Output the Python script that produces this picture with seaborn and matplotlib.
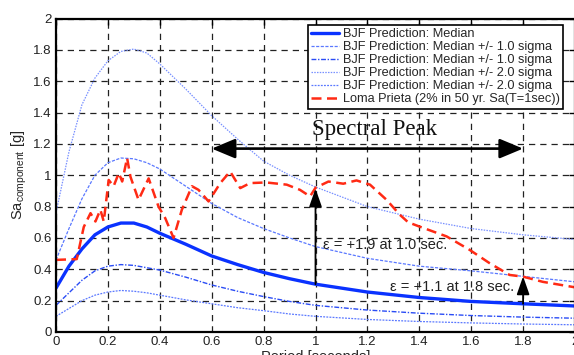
import numpy as np
import pandas as pd
import matplotlib
matplotlib.use("Agg")
import matplotlib.pyplot as plt
import seaborn as sns

# ---- data ----
period = [0.0, 0.05, 0.1, 0.15, 0.2, 0.25, 0.3, 0.35, 0.4, 0.5, 0.6, 0.7, 0.8, 0.9,
          1.0, 1.2, 1.4, 1.6, 1.8, 2.0]
median = [0.28, 0.42, 0.53, 0.62, 0.67, 0.695, 0.695, 0.67, 0.63, 0.56, 0.485, 0.43, 0.38, 0.34,
          0.305, 0.255, 0.22, 0.195, 0.18, 0.166]
plus1 = [0.46, 0.66, 0.85, 1.0, 1.08, 1.11, 1.105, 1.08, 1.04, 0.93, 0.82, 0.73, 0.66, 0.60,
         0.545, 0.47, 0.42, 0.39, 0.355, 0.32]
minus1 = [0.17, 0.25, 0.33, 0.39, 0.42, 0.43, 0.425, 0.41, 0.395, 0.35, 0.30, 0.26, 0.226, 0.195,
          0.17, 0.14, 0.12, 0.105, 0.095, 0.088]
plus2 = [0.76, 1.15, 1.45, 1.62, 1.73, 1.79, 1.805, 1.78, 1.71, 1.55, 1.38, 1.23, 1.09, 1.0,
         0.925, 0.80, 0.72, 0.66, 0.62, 0.59]
minus2 = [0.10, 0.15, 0.20, 0.235, 0.255, 0.265, 0.26, 0.25, 0.235, 0.205, 0.18, 0.155, 0.136, 0.115,
          0.10, 0.08, 0.067, 0.058, 0.051, 0.046]

lp_period = [0.0, 0.08, 0.107, 0.133, 0.152, 0.171, 0.184, 0.203, 0.222, 0.242, 0.255, 0.274,
             0.287, 0.318, 0.357, 0.395, 0.421, 0.453, 0.485, 0.524, 0.549, 0.588, 0.633,
             0.671, 0.71, 0.748, 0.81, 0.889, 0.94, 0.979, 1.0, 1.05, 1.107, 1.158, 1.21,
             1.274, 1.325, 1.357, 1.40, 1.505, 1.594, 1.671, 1.748, 1.80, 1.876, 2.0]
lp_sa = [0.46, 0.465, 0.67, 0.758, 0.705, 0.78, 0.705, 0.97, 0.93, 1.014, 0.96, 1.11,
         0.99, 0.843, 0.98, 0.80, 0.726, 0.60, 0.78, 0.93, 0.907, 0.833, 0.95,
         1.024, 0.918, 0.95, 0.954, 0.94, 0.907, 0.865, 0.92, 0.96, 0.946, 0.967, 0.94,
         0.843, 0.748, 0.70, 0.673, 0.61, 0.524, 0.439, 0.364, 0.353, 0.32, 0.285]

labels = ["BJF Prediction: Median",
          "BJF Prediction: Median +/- 1.0 sigma",
          "BJF Prediction: Median +/- 1.0 sigma",
          "BJF Prediction: Median +/- 2.0 sigma",
          "BJF Prediction: Median +/- 2.0 sigma",
          "Loma Prieta (2% in 50 yr. Sa(T=1sec))"]
xticks = [0, 0.2, 0.4, 0.6, 0.8, 1, 1.2, 1.4, 1.6, 1.8, 2]
yticks = [0, 0.2, 0.4, 0.6, 0.8, 1, 1.2, 1.4, 1.6, 1.8, 2]
xtick_labels = ["0", "0.2", "0.4", "0.6", "0.8", "1", "1.2", "1.4", "1.6", "1.8", "2"]
ytick_labels = ["0", "0.2", "0.4", "0.6", "0.8", "1", "1.2", "1.4", "1.6", "1.8", "2"]

# ---- style ----
sns.set_style("white")
plt.rcParams["font.family"] = ["Liberation Sans", "DejaVu Sans"]

fig = plt.figure(figsize=(5.74, 3.55), dpi=100)
ax = fig.add_axes([56 / 574, 1 - 332 / 355, 519 / 574, 313.5 / 355])

df = pd.DataFrame({"period": period, "median": median, "plus1": plus1,
                   "minus1": minus1, "plus2": plus2, "minus2": minus2})
lp = pd.DataFrame({"period": lp_period, "sa": lp_sa})

sns.lineplot(data=df, x="period", y="median", ax=ax, color="#0a32ff", lw=2.4,
             label=labels[0], sort=False)
sns.lineplot(data=df, x="period", y="plus1", ax=ax, color="#5a78ff", lw=0.9,
             linestyle=(0, (2.5, 1.2)), label=labels[1], sort=False)
sns.lineplot(data=df, x="period", y="minus1", ax=ax, color="#2a4cf5", lw=1.0,
             linestyle=(0, (3.5, 1.2, 1, 1.2)), label=labels[2], sort=False)
sns.lineplot(data=df, x="period", y="plus2", ax=ax, color="#7890ff", lw=0.9,
             linestyle=(0, (1.2, 1.0)), label=labels[3], sort=False)
sns.lineplot(data=df, x="period", y="minus2", ax=ax, color="#5a78ff", lw=0.9,
             linestyle=(0, (1.5, 1.0)), label=labels[4], sort=False)
sns.lineplot(data=lp, x="period", y="sa", ax=ax, color="#ff2a14", lw=1.8,
             linestyle=(0, (4, 2.2)), label=labels[5], sort=False)

ax.set_xlim(0, 2)
ax.set_ylim(0, 2)
ax.set_xticks(xticks)
ax.set_xticklabels(xtick_labels)
ax.set_yticks(yticks)
ax.set_yticklabels(ytick_labels)
ax.tick_params(direction="in", length=4, width=1, labelsize=9.5, colors="black",
               top=True, right=True, pad=3)
for lab in ax.get_xticklabels() + ax.get_yticklabels():
    lab.set_color("#222222")
ax.grid(True, color="#222222", linestyle=(0, (5, 4)), lw=0.9)
for s in ax.spines.values():
    s.set_color("black")
    s.set_linewidth(1.6)

ax.set_xlabel("Period [seconds]", fontsize=10.5, labelpad=1)
ax.set_ylabel(r"Sa$_{\mathregular{component}}$ [g]", fontsize=10.5, labelpad=3)

leg = ax.legend(loc="upper right", bbox_to_anchor=(0.977, 0.979), fontsize=9.2,
                frameon=True, fancybox=False, edgecolor="black", framealpha=1,
                borderpad=0.25, labelspacing=0.08, handlelength=2.2, handletextpad=0.3,
                borderaxespad=0)
leg.get_frame().set_linewidth(1.2)

# spectral peak arrow
ax.annotate("", xy=(0.6, 1.17), xytext=(1.8, 1.17),
            arrowprops=dict(arrowstyle="<|-|>,head_length=1.2,head_width=0.5",
                            mutation_scale=12, color="black", lw=1.9,
                            shrinkA=0, shrinkB=0))
ax.text(0.985, 1.29, "Spectral Peak", fontsize=16.5,
        family=["Liberation Serif", "DejaVu Serif"],
        va="center", ha="left", color="#111111")

# epsilon arrows
ax.annotate("", xy=(1.0, 0.915), xytext=(1.0, 0.305),
            arrowprops=dict(arrowstyle="-|>,head_length=1.0,head_width=0.35",
                            mutation_scale=11, color="black", lw=1.3,
                            shrinkA=0, shrinkB=0))
ax.annotate("", xy=(1.8, 0.355), xytext=(1.8, 0.18),
            arrowprops=dict(arrowstyle="-|>,head_length=1.0,head_width=0.35",
                            mutation_scale=11, color="black", lw=1.3,
                            shrinkA=0, shrinkB=0))
ax.text(1.03, 0.556, "ε = +1.9 at 1.0 sec.", fontsize=10.5, va="center", ha="left",
        color="#222222")
ax.text(1.287, 0.29, "ε = +1.1 at 1.8 sec.", fontsize=10.5, va="center", ha="left",
        color="#222222")

fig.savefig("out.png", dpi=100)
